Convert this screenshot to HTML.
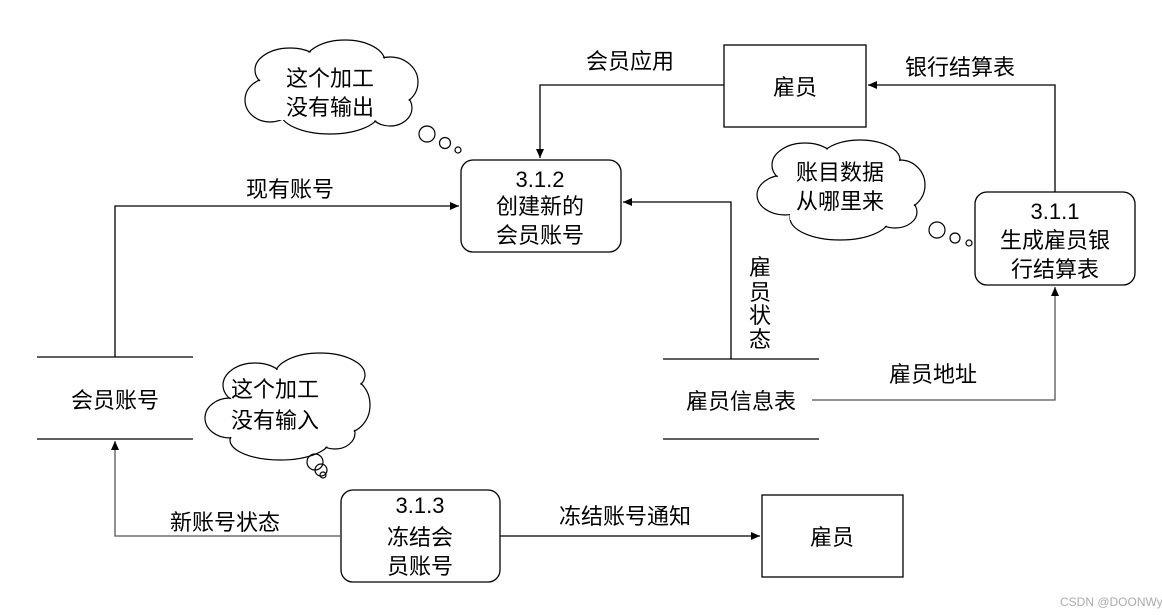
<!DOCTYPE html>
<html><head><meta charset="utf-8"><style>
html,body{margin:0;padding:0;background:#fff;}
svg{display:block;}
text{font-family:"Liberation Sans","Noto Sans CJK SC",sans-serif;font-size:22px;fill:#000;}
</style></head><body>
<svg width="1162" height="615" viewBox="0 0 1162 615" xmlns="http://www.w3.org/2000/svg">
<defs>
<marker id="a" markerWidth="10" markerHeight="10" refX="9" refY="5" orient="auto" markerUnits="userSpaceOnUse">
<path d="M0,1 L9,5 L0,9 z" fill="#000"/></marker>
</defs>
<g fill="none" stroke="#000" stroke-width="1.3">
<!-- boxes -->
<rect x="724" y="45" width="142" height="82"/>
<rect x="762" y="495" width="141" height="82"/>
<rect x="461" y="160" width="160" height="92" rx="12"/>
<rect x="975" y="192" width="160" height="93" rx="12"/>
<rect x="341" y="490" width="159" height="92" rx="12"/>
<!-- stores -->
<line x1="37" y1="357" x2="193" y2="357"/><line x1="37" y1="439" x2="193" y2="439"/>
<line x1="663" y1="359" x2="819" y2="359"/><line x1="663" y1="439" x2="819" y2="439"/>
<!-- flows -->
<polyline points="115,357 115,206 459,206" marker-end="url(#a)"/>
<polyline points="724,85 540,85 540,158" marker-end="url(#a)"/>
<polyline points="731,359 731,202 623,202" marker-end="url(#a)"/>
<polyline points="1055,192 1055,85 868,85" marker-end="url(#a)"/>
<polyline points="812,400 1055,400 1055,287" marker-end="url(#a)" stroke="#555"/>
<polyline points="341,536 115,536 115,441" marker-end="url(#a)" stroke="#555"/>
<polyline points="500,536 760,536" marker-end="url(#a)"/>
</g>
<!-- clouds -->
<g id="c1">
<g fill="none" stroke="#000" stroke-width="1.2">
<ellipse cx="290" cy="70" rx="35" ry="22"/><ellipse cx="345" cy="62" rx="40" ry="22"/><ellipse cx="390" cy="82" rx="28" ry="25"/>
<ellipse cx="270" cy="100" rx="25" ry="22"/><ellipse cx="330" cy="112" rx="50" ry="22"/><ellipse cx="390" cy="108" rx="22" ry="18"/>
</g>
<g fill="#fff">
<ellipse cx="290" cy="70" rx="34" ry="21"/><ellipse cx="345" cy="62" rx="39" ry="21"/><ellipse cx="390" cy="82" rx="27" ry="24"/>
<ellipse cx="270" cy="100" rx="24" ry="21"/><ellipse cx="330" cy="112" rx="49" ry="21"/><ellipse cx="390" cy="108" rx="21" ry="17"/>
<rect x="275" y="70" width="120" height="50"/>
</g>
<g fill="none" stroke="#000" stroke-width="1.2"><circle cx="427" cy="134" r="8"/><circle cx="445" cy="143" r="5.5"/><circle cx="458" cy="150" r="3"/></g>
</g>
<g>
<g fill="none" stroke="#000" stroke-width="1.2">
<ellipse cx="805" cy="165" rx="33" ry="22"/><ellipse cx="860" cy="160" rx="40" ry="20"/><ellipse cx="900" cy="185" rx="25" ry="25"/>
<ellipse cx="785" cy="195" rx="28" ry="20"/><ellipse cx="840" cy="218" rx="50" ry="22"/><ellipse cx="895" cy="212" rx="22" ry="16"/>
</g>
<g fill="#fff">
<ellipse cx="805" cy="165" rx="32" ry="21"/><ellipse cx="860" cy="160" rx="39" ry="19"/><ellipse cx="900" cy="185" rx="24" ry="24"/>
<ellipse cx="785" cy="195" rx="27" ry="19"/><ellipse cx="840" cy="218" rx="49" ry="21"/><ellipse cx="895" cy="212" rx="21" ry="15"/>
<rect x="790" y="165" width="115" height="55"/>
</g>
<g fill="none" stroke="#000" stroke-width="1.2"><circle cx="937" cy="230" r="8"/><circle cx="955" cy="238" r="5"/><circle cx="969" cy="243" r="3"/></g>
</g>
<g>
<g fill="none" stroke="#000" stroke-width="1.2">
<ellipse cx="255" cy="385" rx="32" ry="22"/><ellipse cx="320" cy="375" rx="45" ry="22"/><ellipse cx="345" cy="405" rx="25" ry="28"/>
<ellipse cx="230" cy="418" rx="25" ry="20"/><ellipse cx="280" cy="440" rx="50" ry="20"/><ellipse cx="335" cy="433" rx="20" ry="16"/>
</g>
<g fill="#fff">
<ellipse cx="255" cy="385" rx="31" ry="21"/><ellipse cx="320" cy="375" rx="44" ry="21"/><ellipse cx="345" cy="405" rx="24" ry="27"/>
<ellipse cx="230" cy="418" rx="24" ry="19"/><ellipse cx="280" cy="440" rx="49" ry="19"/><ellipse cx="335" cy="433" rx="19" ry="15"/>
<rect x="235" y="385" width="115" height="55"/>
</g>
<g fill="none" stroke="#000" stroke-width="1.2"><circle cx="315" cy="462" r="8"/><circle cx="321" cy="470" r="6"/><circle cx="323" cy="475" r="3"/></g>
</g>
<!-- text -->
<g text-anchor="middle">
<text x="330" y="86">这个加工</text><text x="330" y="115">没有输出</text>
<text x="840" y="180">账目数据</text><text x="840" y="209">从哪里来</text>
<text x="275" y="397">这个加工</text><text x="275" y="428">没有输入</text>
<text x="795" y="95">雇员</text>
<text x="832" y="545">雇员</text>
<text x="540" y="187">3.1.2</text><text x="540" y="214">创建新的</text><text x="540" y="243">会员账号</text>
<text x="1055" y="219">3.1.1</text><text x="1055" y="248">生成雇员银</text><text x="1055" y="277">行结算表</text>
<text x="420" y="513">3.1.3</text><text x="420" y="545">冻结会</text><text x="420" y="574">员账号</text>
<text x="115" y="408">会员账号</text>
<text x="741" y="409">雇员信息表</text>
<text x="290" y="197">现有账号</text>
<text x="630" y="69">会员应用</text>
<text x="960" y="75">银行结算表</text>
<text x="933" y="382">雇员地址</text>
<text x="225" y="530">新账号状态</text>
<text x="625" y="524">冻结账号通知</text>
<text x="760" y="275">雇</text><text x="760" y="300">员</text><text x="760" y="323">状</text><text x="760" y="347">态</text>
</g>
<text x="1060" y="606" style="font-size:12px;fill:#aaa">CSDN @DOONWy</text>
</svg>
</body></html>
